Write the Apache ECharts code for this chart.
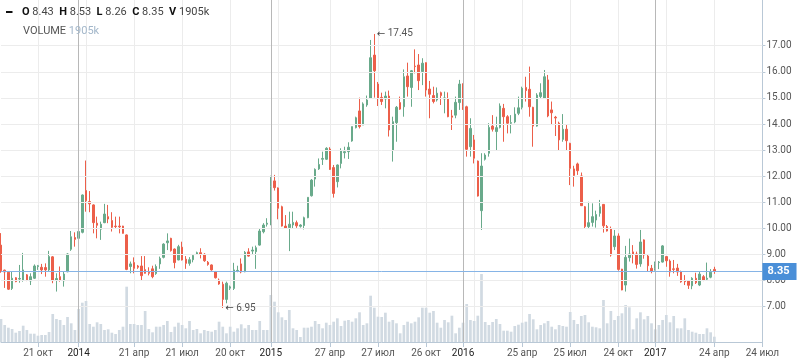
<!DOCTYPE html>
<html><head><meta charset="utf-8">
<script src="https://cdn.jsdelivr.net/npm/echarts@6/dist/echarts.min.js"></script>
<style>html,body{margin:0;padding:0;background:#fff;}#c{width:798px;height:363px;}</style>
</head><body><div id="c"></div>
<script>
// weekly candles, Mondays, starting 2013-08-12; axis runs to 2017-07-24
const startDate = '2013-08-12';
const weekCount = 207;

const open = [9.36,8.40,8.32,7.70,8.11,8.06,8.02,8.22,7.99,8.09,8.54,8.51,8.50,8.41,8.91,8.02,8.15,7.99,8.34,9.20,
9.65,9.62,9.85,11.45,11.03,10.90,10.20,9.97,10.22,10.45,10.30,10.09,10.09,10.09,9.75,8.54,8.69,8.56,8.56,8.42,
8.32,8.45,8.27,8.64,8.89,9.45,9.62,9.21,8.79,9.28,8.82,8.66,8.80,9.02,9.07,9.01,8.70,8.60,8.34,8.02,
7.86,7.28,7.71,7.70,8.37,8.64,8.34,9.10,9.13,9.11,9.36,9.87,10.16,10.13,11.82,11.55,10.83,10.09,10.03,10.13,
10.22,10.08,10.11,10.41,11.25,11.89,12.28,12.65,12.65,13.04,12.33,11.79,12.49,12.90,12.94,13.35,13.86,14.50,13.96,14.73,
14.98,16.64,15.53,15.02,14.96,15.07,13.00,14.05,14.82,14.66,15.84,15.40,16.22,16.26,16.01,16.35,15.34,15.09,14.92,15.20,
14.96,14.96,14.31,14.34,14.82,15.30,14.66,13.13,13.39,12.58,10.68,12.65,12.88,13.92,13.71,13.87,14.60,14.28,14.03,14.08,
14.41,14.64,15.40,15.33,14.64,13.92,15.05,14.98,15.69,14.54,14.26,14.03,13.41,13.80,13.26,12.28,12.47,12.01,10.83,10.07,
10.23,10.32,10.58,10.92,10.07,9.98,9.30,9.71,8.44,7.83,8.88,9.10,9.02,8.64,9.56,8.94,8.47,8.47,8.69,8.71,
8.92,8.75,8.45,8.48,8.33,7.98,7.98,7.80,8.09,7.83,8.15,8.05,8.13,8.43];
const high = [9.82,8.42,8.34,8.34,8.13,8.60,9.06,8.25,8.28,8.62,8.60,8.64,8.66,9.14,8.94,8.28,8.54,8.34,9.05,9.90,
9.85,10.39,11.30,12.60,11.43,10.92,10.45,10.26,10.94,10.90,10.62,10.45,10.45,10.10,9.77,8.73,8.89,8.60,8.94,8.94,
8.51,8.57,8.62,8.92,9.43,9.81,9.64,9.23,9.37,9.49,8.94,8.90,9.00,9.11,9.24,9.05,8.75,8.62,8.37,8.08,
7.96,7.96,7.81,8.68,8.57,8.85,9.13,9.24,9.30,9.34,10.00,10.20,10.39,12.02,12.05,11.57,10.87,10.51,10.64,10.64,
10.30,10.16,10.45,11.19,11.89,12.30,12.68,12.94,13.11,13.11,12.43,12.45,13.07,13.13,13.30,13.90,14.28,15.01,14.83,15.09,
17.22,17.45,15.61,15.20,15.24,15.28,14.28,14.69,15.05,16.09,16.35,16.07,16.86,16.68,16.52,16.36,15.65,15.43,15.40,15.24,
15.24,15.21,14.54,15.05,15.69,15.56,14.70,14.22,13.58,12.60,12.88,12.88,14.03,14.34,14.28,14.79,14.77,14.34,14.34,14.64,
15.05,15.43,15.81,16.20,14.66,15.18,15.56,16.07,15.88,14.86,14.31,14.09,14.38,13.96,13.28,12.40,12.52,12.14,10.86,11.02,
10.96,10.68,11.09,10.93,10.13,10.07,9.94,9.81,8.45,9.33,9.61,9.36,9.11,9.94,9.58,9.01,8.60,8.73,8.75,9.36,
8.94,8.81,8.79,8.64,8.38,8.21,7.99,8.13,8.30,8.33,8.21,8.69,8.44,8.53];
const low = [8.30,7.72,7.64,7.64,7.94,7.92,7.96,7.98,7.83,8.06,8.41,8.25,8.15,8.34,7.90,7.58,7.96,7.77,8.32,9.14,
9.30,9.27,9.81,10.64,10.62,9.81,9.62,9.56,10.20,10.20,9.88,10.00,9.81,9.80,8.40,8.28,8.28,8.45,8.00,8.27,
8.20,8.09,8.22,8.45,8.85,9.17,9.11,8.47,8.78,8.77,8.45,8.57,8.70,8.98,8.85,8.72,8.57,8.38,8.08,7.84,
6.95,7.13,7.64,7.64,8.32,8.28,8.32,8.92,8.98,8.45,9.34,9.81,10.07,10.13,11.45,10.35,10.07,9.98,9.13,10.00,
10.02,10.03,9.96,10.39,11.22,11.60,12.24,12.43,12.62,12.24,11.18,11.57,12.30,12.68,12.66,13.32,13.83,13.83,13.96,14.66,
14.98,15.01,14.69,14.73,14.60,13.52,12.56,13.32,14.54,14.28,15.05,14.66,15.94,15.30,15.49,15.05,14.22,14.79,14.86,14.73,
14.41,14.26,13.77,14.22,14.54,14.54,12.75,12.75,12.49,11.22,9.94,12.60,12.75,13.71,13.00,13.83,13.32,13.64,13.64,14.03,
14.34,14.56,14.86,14.28,13.13,13.90,14.98,14.98,14.26,13.96,13.54,13.00,13.32,13.00,11.66,11.60,12.05,10.86,9.98,9.98,
10.07,10.03,10.45,9.84,9.88,8.92,9.17,8.38,7.63,7.58,8.73,8.66,8.46,8.53,8.84,8.33,8.28,8.38,8.44,8.69,
8.53,8.15,8.28,8.18,7.92,7.83,7.68,7.67,7.87,7.79,7.98,8.02,8.09,8.26];
const close = [8.38,8.33,7.67,8.09,7.96,8.08,8.41,8.02,8.15,8.56,8.57,8.41,8.41,8.92,8.00,8.08,8.02,8.25,9.02,9.68,
9.58,9.88,11.28,11.06,10.94,10.22,10.12,10.16,10.55,10.36,10.04,10.07,10.06,9.81,8.43,8.64,8.47,8.51,8.19,8.28,
8.28,8.15,8.54,8.85,9.40,9.52,9.15,8.69,9.30,8.79,8.66,8.80,8.96,9.07,9.01,8.76,8.62,8.41,8.11,7.87,
7.28,7.90,7.76,8.41,8.39,8.33,9.08,8.94,9.17,9.26,9.90,10.13,10.20,11.60,11.56,10.77,10.09,10.00,10.16,10.23,
10.10,10.13,10.41,11.19,11.85,12.26,12.45,12.68,13.07,12.26,11.34,12.43,12.97,12.94,13.11,13.90,14.24,13.90,14.77,14.92,
16.54,16.04,14.98,14.86,15.07,13.77,14.09,14.64,14.57,15.81,15.43,16.04,16.20,15.66,16.33,15.30,15.14,14.86,15.18,15.09,
15.00,14.28,14.26,14.83,15.53,14.66,13.03,13.83,12.69,11.24,12.39,12.81,13.87,13.80,13.86,14.69,14.28,14.03,14.05,14.38,
14.62,15.37,15.28,14.66,13.92,15.11,15.20,15.81,14.31,14.43,14.23,13.39,13.80,13.36,12.30,12.03,12.21,10.87,10.07,10.22,
10.45,10.53,10.83,10.10,9.90,8.98,9.71,8.43,7.64,8.89,9.02,9.02,8.62,9.48,8.98,8.57,8.37,8.66,8.71,9.33,
8.76,8.33,8.43,8.33,7.95,7.96,7.82,8.09,7.92,8.25,8.02,8.09,8.32,8.35];
// volume, thousands of shares
const volume = [8280,6120,5150,4680,3350,3960,5870,4320,2990,2990,2270,2520,2520,3600,10080,8280,7920,6120,9000,6730,
4320,11880,14150,14760,6480,5510,7090,6480,4320,4570,3350,2880,4320,5510,19910,6480,6480,6120,6120,11160,
4680,3490,5510,5510,6120,7560,3600,5510,6950,6120,4930,7560,4320,4680,3130,4320,3960,3710,4320,7310,
5510,3130,5510,3710,4930,6370,4930,6120,4320,4320,7560,4320,4320,16920,14510,10690,8890,7920,11520,4930,
4320,1800,5150,5150,5510,7560,6480,4930,6950,6120,7310,8530,5760,7670,7920,7310,8530,10690,6120,6730,
16670,12350,9110,9000,10550,7310,7920,6730,3130,6120,7310,6730,7310,8890,12350,12350,10550,11160,6950,5150,
7920,7090,9470,3130,5150,6950,13680,7920,7560,9470,24480,7200,6120,7200,8280,6480,4070,4070,3710,5760,
6230,6950,7310,10080,8170,4570,6120,6730,7560,5510,4570,6120,5760,5510,10800,7920,6480,9360,9720,7090,
5510,5290,4930,15120,6730,11160,7920,9360,10330,13320,12490,4570,8530,10690,8170,9360,6730,4570,6120,7920,
9720,7090,9360,4930,4930,8530,4320,3710,3350,2880,2880,4930,3490,1905];

const priceTicks = [7,8,9,10,11,12,13,14,15,16,17];
const labelDates = ['2013-10-21','2014-01-06','2014-04-21','2014-07-21','2014-10-20','2015-01-05','2015-04-27','2015-07-27',
  '2015-10-26','2016-01-04','2016-04-25','2016-07-25','2016-10-24','2017-01-02','2017-04-24','2017-07-24'];
const yearDates = ['2014-01-06','2015-01-05','2016-01-04','2017-01-02'];
const gridDates = ['2013-10-21','2014-01-20','2014-04-21','2014-07-21','2014-10-20','2015-01-19','2015-04-27','2015-07-27',
  '2015-10-26','2016-01-25','2016-04-25','2016-07-25','2016-10-24','2017-01-23','2017-04-24'];
const monthNames = ['янв','фев','мар','апр','май','июн','июл','авг','сен','окт','ноя','дек'];

const dates = [];
{
  const t0 = Date.parse(startDate + 'T00:00:00Z');
  for (let i = 0; i < weekCount; i++) dates.push(new Date(t0 + i * 7 * 86400000).toISOString().slice(0, 10));
}
const n = close.length;
const candles = dates.map((d, i) => i < n ? [open[i], close[i], low[i], high[i]] : '-');
const vols = dates.map((d, i) => i < n ? volume[i] : '-');
let iMax = 0, iMin = 0;
for (let i = 0; i < n; i++) { if (high[i] > high[iMax]) iMax = i; if (low[i] < low[iMin]) iMin = i; }
const last = n - 1;
const fmt = v => v.toFixed(2);
const volTxt = v => Math.round(v) + 'k';

const UP = '#69aa8b', DOWN = '#ec5f4a', AXIS = '#b9c8d6';
const GL = 1, GR = 35.6;
const FONT = 'Roboto, sans-serif';

const chart = echarts.init(document.getElementById('c'), null, { renderer: 'canvas' });

// legend (values taken from the last candle)
const legendPairs = [['O', fmt(open[last])], ['H', fmt(high[last])], ['L', fmt(low[last])], ['C', fmt(close[last])], ['V', volTxt(volume[last])]];
const legendLine = legendPairs.map(p => '{k|' + p[0] + '} {v|' + p[1] + '}').join('  ');
const graphic = [
  { type: 'rect', z: 100, shape: { x: 6, y: 11, width: 6.5, height: 2 }, style: { fill: '#111' } },
  { type: 'text', z: 100, x: 22, y: 12, style: { text: legendLine, textVerticalAlign: 'middle', fontSize: 11, fontFamily: FONT,
      rich: { k: { fontSize: 11, fontWeight: 'bold', fill: '#111', fontFamily: FONT },
              v: { fontSize: 11, fill: '#444', fontFamily: FONT } } } },
  { type: 'text', z: 100, x: 23, y: 31.5, style: { text: '{a|VOLUME} {b|' + volTxt(volume[last]) + '}', textVerticalAlign: 'middle', fontSize: 11, fontFamily: FONT,
      rich: { a: { fontSize: 11, fill: '#555', fontFamily: FONT }, b: { fontSize: 11, fill: '#a3b7ca', fontFamily: FONT } } } }
];

const option = {
  animation: false,
  backgroundColor: '#fff',
  textStyle: { fontFamily: FONT },
  grid: [
    { left: GL, right: GR, top: -6.5, height: 365.4, outerBoundsMode: 'none', containLabel: false },
    { left: GL, right: GR, top: 0, height: 342, outerBoundsMode: 'none', containLabel: false }
  ],
  xAxis: [
    { type: 'category', gridIndex: 0, data: dates, boundaryGap: false, show: false },
    { type: 'category', gridIndex: 1, data: dates, boundaryGap: false,
      axisLine: { lineStyle: { color: AXIS } },
      axisTick: { interval: (i, v) => labelDates.includes(v), length: 5, lineStyle: { color: AXIS } },
      axisLabel: { interval: (i, v) => labelDates.includes(v), margin: 6, fontSize: 10,
        formatter: v => {
          if (yearDates.includes(v)) return '{y|' + v.slice(0, 4) + '}';
          const p = v.split('-');
          return '{m|' + parseInt(p[2], 10) + ' ' + monthNames[parseInt(p[1], 10) - 1] + '}';
        },
        rich: { y: { color: '#222', fontSize: 10 }, m: { color: '#555', fontSize: 10 } } },
      splitLine: { show: true, interval: (i, v) => gridDates.includes(v), lineStyle: { color: '#ececec', width: 1 } } }
  ],
  yAxis: [
    { type: 'value', gridIndex: 0, position: 'right', min: 5, max: 19, interval: 1, scale: false,
      axisLine: { show: false },
      axisTick: { show: true, length: 3, customValues: priceTicks, lineStyle: { color: AXIS } },
      axisLabel: { show: true, customValues: priceTicks, margin: 4, fontSize: 10, color: '#555', formatter: v => fmt(v) },
      splitLine: { show: false } },
    { type: 'value', gridIndex: 1, position: 'right', min: 0, max: 342 * 360,
      axisLine: { show: true, lineStyle: { color: AXIS } }, axisTick: { show: false }, axisLabel: { show: false }, splitLine: { show: false } }
  ],
  graphic: graphic,
  series: [
    { type: 'line', xAxisIndex: 0, yAxisIndex: 0, data: [], z: 0, silent: true,
      markLine: { silent: true, symbol: ['none', 'none'], animation: false, label: { show: false },
        lineStyle: { color: '#ececec', width: 1, type: 'solid' },
        data: priceTicks.map(v => ({ yAxis: v })) } },
    { type: 'bar', xAxisIndex: 1, yAxisIndex: 1, data: vols, barWidth: 2.7, z: 1, silent: true,
      itemStyle: { color: '#d1dae2' },
      markLine: { silent: true, symbol: ['none', 'none'], animation: false, label: { show: false },
        lineStyle: { color: '#b8b8b8', width: 1, type: 'solid' },
        data: yearDates.map(d => ({ xAxis: d })) } },
    { type: 'candlestick', xAxisIndex: 0, yAxisIndex: 0, data: candles, barWidth: 2, z: 3, clip: false, silent: true,
      itemStyle: { color: UP, color0: DOWN, borderColor: UP, borderColor0: DOWN, borderWidth: 1 },
      markLine: { silent: true, symbol: ['none', 'none'], animation: false,
        lineStyle: { color: '#86b4e6', width: 1, type: 'solid' },
        label: { show: true, position: 'end', distance: 0, formatter: fmt(close[last]), backgroundColor: '#4a8fd8',
          color: '#fff', fontWeight: 'bold', fontSize: 11, padding: [3, 7, 3, 5] },
        data: [{ yAxis: close[last] }] },
      markPoint: { silent: true, symbol: 'circle', symbolSize: 1, animation: false,
        itemStyle: { color: 'rgba(0,0,0,0)' },
        label: { show: true, position: 'right', distance: 2, color: '#555', fontSize: 10,
          formatter: p => '{a|\u2190} ' + fmt(p.value),
          rich: { a: { fontFamily: 'DejaVu Sans', fontSize: 10, color: '#444' } } },
        data: [
          { coord: [dates[iMax], high[iMax]], value: high[iMax] },
          { coord: [dates[iMin], low[iMin]], value: low[iMin] }
        ] } }
  ]
};
chart.setOption(option);
</script>
</body></html>
